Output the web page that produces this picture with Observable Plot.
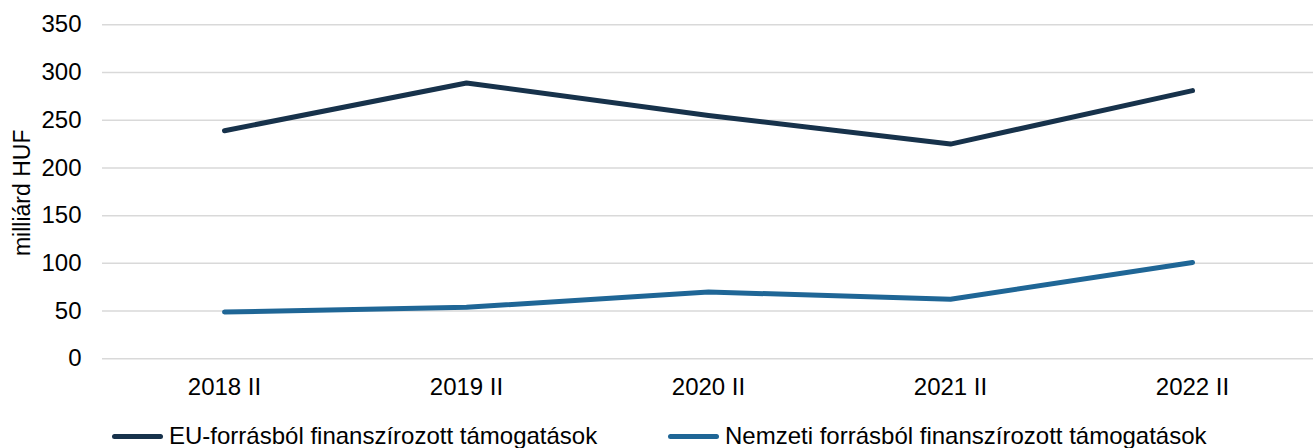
<!DOCTYPE html>
<html>
<head>
<meta charset="utf-8">
<script src="https://cdn.jsdelivr.net/npm/d3@7"></script>
<script src="https://cdn.jsdelivr.net/npm/@observablehq/plot@0.6"></script>
<style>
  html, body { margin: 0; padding: 0; background: #fff; overflow: hidden; }
  body { width: 1313px; height: 448px; position: relative; font-family: "Liberation Sans", Arial, sans-serif; }
  #legend { position: absolute; top: 421px; left: 0; width: 1313px; height: 30px; font-size: 24px; color: #000; }
  .item { position: absolute; display: flex; align-items: center; white-space: nowrap; line-height: 30px; }
  .sw { width: 51px; height: 5px; border-radius: 3px; margin-right: 6px; }
</style>
</head>
<body>
<div id="chart"></div>
<div id="legend"></div>
<script>
const periods = ["2018 II", "2019 II", "2020 II", "2021 II", "2022 II"];
const seriesNames = ["EU-forrásból finanszírozott támogatások", "Nemzeti forrásból finanszírozott támogatások"];
const euValues = [239, 289, 255, 225, 281];
const nationalValues = [49, 54, 70, 62.5, 101];
const seriesColors = ["#17324b", "#1f6696"];
const yTicks = [0, 50, 100, 150, 200, 250, 300, 350];
const yLabel = "milliárd HUF";

const data = [];
periods.forEach((p, i) => data.push({period: p, value: euValues[i], series: seriesNames[0]}));
periods.forEach((p, i) => data.push({period: p, value: nationalValues[i], series: seriesNames[1]}));

const chart = Plot.plot({
  width: 1313,
  height: 400,
  marginTop: 24.3,
  marginBottom: 41.7,
  marginLeft: 102,
  marginRight: 0,
  style: {fontFamily: '"Liberation Sans", Arial, sans-serif', fontSize: "24px", color: "#000", background: "#fff"},
  x: {type: "point", domain: periods, padding: 0.5, label: null},
  y: {domain: [0, 350], ticks: yTicks, label: null},
  color: {domain: seriesNames, range: seriesColors},
  marks: [
    Plot.gridY(yTicks, {stroke: "#d9d9d9", strokeOpacity: 1, strokeWidth: 1.5}),
    Plot.axisY(yTicks, {tickSize: 0, tickPadding: 21, fontSize: 24, label: null}),
    Plot.axisX({tickSize: 0, tickPadding: 19, fontSize: 24, label: null}),
    Plot.text([yLabel], {frameAnchor: "left", dx: -80, dy: 1, rotate: -90, textAnchor: "middle", fontSize: 23, text: d => d}),
    Plot.lineY(data, {x: "period", y: "value", z: "series", stroke: "series", strokeWidth: 5, strokeLinecap: "round", strokeLinejoin: "round"})
  ]
});
document.getElementById("chart").appendChild(chart);

const legend = document.getElementById("legend");
const lefts = [112, 668];
seriesNames.forEach((name, i) => {
  const it = document.createElement("div");
  it.className = "item";
  it.style.left = lefts[i] + "px";
  const sw = document.createElement("span");
  sw.className = "sw";
  sw.style.background = seriesColors[i];
  const tx = document.createElement("span");
  tx.textContent = name;
  it.appendChild(sw); it.appendChild(tx);
  legend.appendChild(it);
});
</script>
</body>
</html>
